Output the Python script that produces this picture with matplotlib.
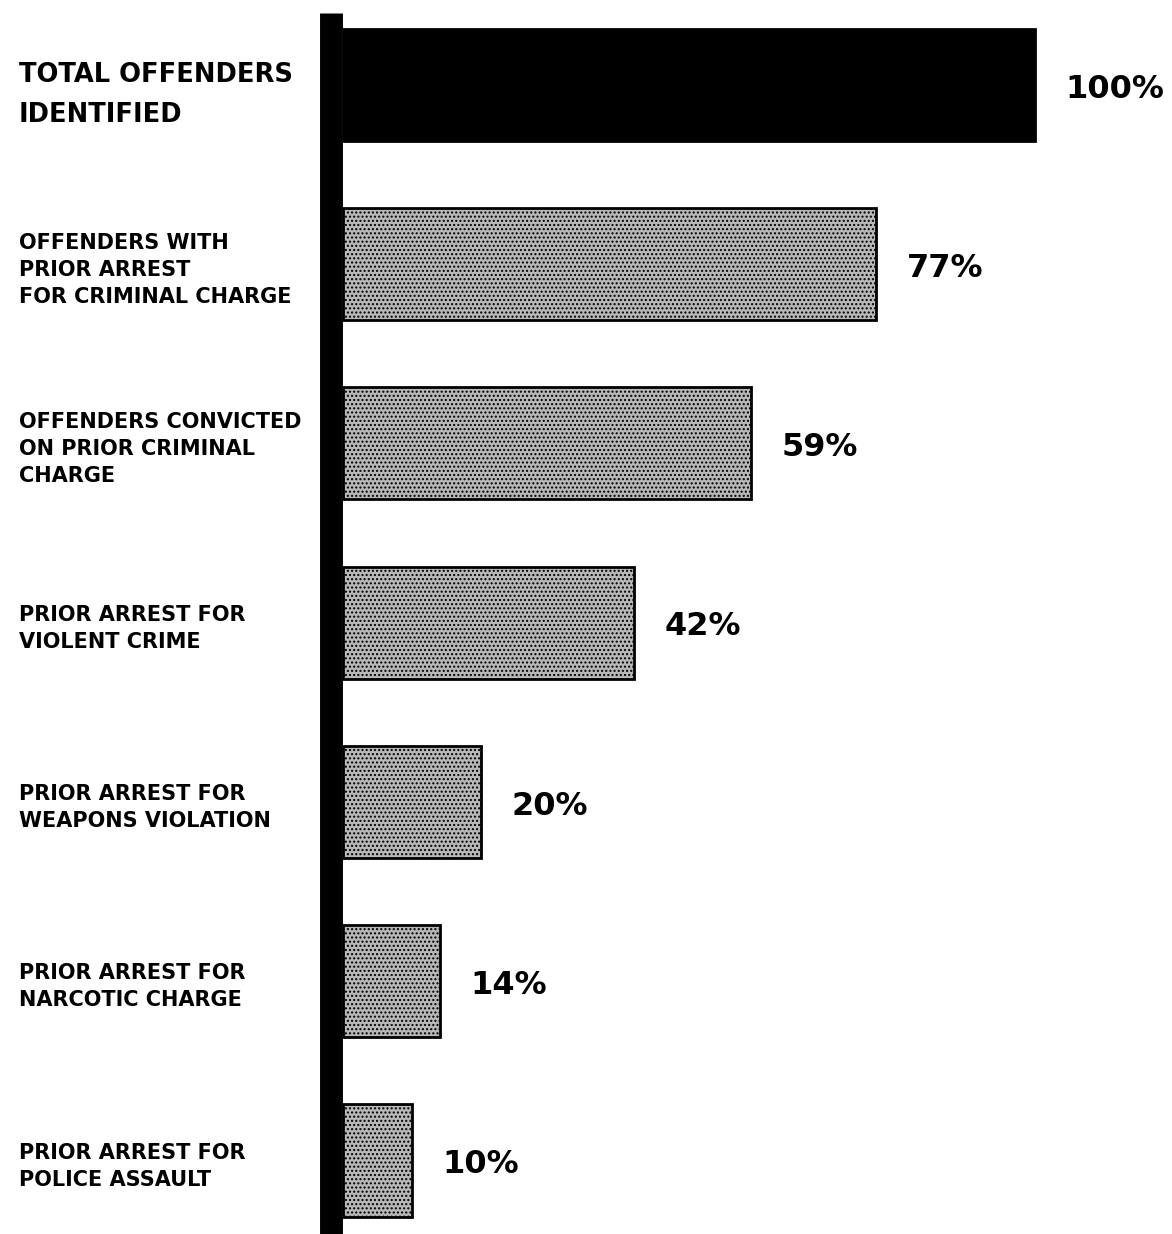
import matplotlib
matplotlib.use("Agg")
import matplotlib.pyplot as plt

# data
categories = [
    "TOTAL OFFENDERS\nIDENTIFIED",
    "OFFENDERS WITH\nPRIOR ARREST\nFOR CRIMINAL CHARGE",
    "OFFENDERS CONVICTED\nON PRIOR CRIMINAL\nCHARGE",
    "PRIOR ARREST FOR\nVIOLENT CRIME",
    "PRIOR ARREST FOR\nWEAPONS VIOLATION",
    "PRIOR ARREST FOR\nNARCOTIC CHARGE",
    "PRIOR ARREST FOR\nPOLICE ASSAULT",
]
percents = [100, 77, 59, 42, 20, 14, 10]
value_labels = ["100%", "77%", "59%", "42%", "20%", "14%", "10%"]

W, H = 1172, 1234
fig = plt.figure(figsize=(W / 100, H / 100), dpi=100)
left = 343 / W
ax = fig.add_axes([left, 0, 1 - left, 1])

ypos = list(range(len(percents)))
colors = ["black"] + ["#b8b8b8"] * (len(percents) - 1)
hatches = [None] + ["...."] * (len(percents) - 1)
bars = ax.barh(ypos, percents, height=0.625, color=colors, edgecolor="black",
               linewidth=2, zorder=2)
for b, h in zip(bars, hatches):
    if h:
        b.set_hatch(h)

ax.set_xlim(0, 100 * (W - 343) / 692)
ax.set_ylim(6.41, -0.474)

# thick black baseline on the left
for s in ["top", "right", "bottom"]:
    ax.spines[s].set_visible(False)
ax.spines["left"].set_linewidth(16.5)
ax.spines["left"].set_capstyle("butt")
ax.spines["left"].set_position(("outward", 8.3))
ax.spines["left"].set_bounds(6.41, -0.40)
ax.set_xticks([])

ax.set_yticks(ypos)
ax.set_yticklabels(categories)
ax.tick_params(axis="y", length=0, pad=225)
for i, t in enumerate(ax.get_yticklabels()):
    t.set_horizontalalignment("left")
    t.set_multialignment("left")
    t.set_fontweight("bold")
    if i == 0:
        t.set_fontsize(18.5)
        t.set_linespacing(1.72)
        t.set_y(t.get_position()[1])
    else:
        t.set_fontsize(15)
        t.set_linespacing(1.45)

for b, v in zip(bars, value_labels):
    ax.annotate(v, (b.get_width(), b.get_y() + b.get_height() / 2),
                xytext=(22, -3), textcoords="offset points",
                ha="left", va="center", fontsize=23, fontweight="bold")

fig.savefig("out.png", dpi=100, facecolor="white")
